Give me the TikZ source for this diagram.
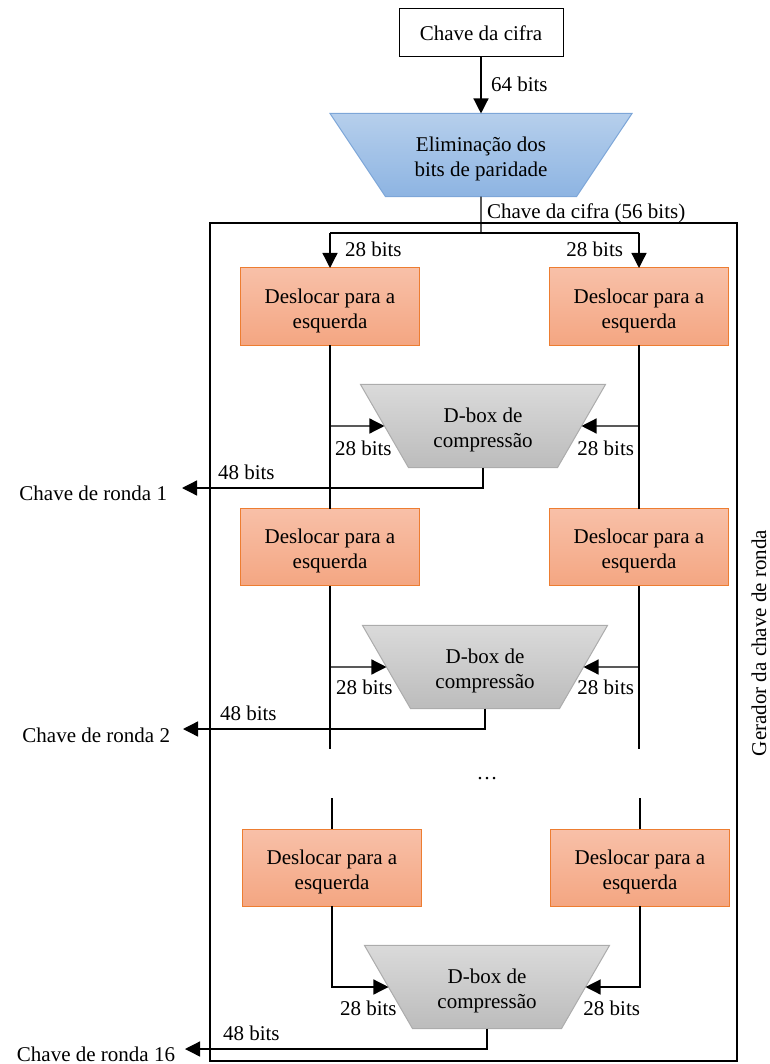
\documentclass[tikz,border=0pt]{standalone}
\usepackage{fontspec}
\setmainfont{Liberation Serif}
\usetikzlibrary{arrows.meta,shapes.geometric}

\definecolor{bluetop}{RGB}{182,207,236}
\definecolor{bluebot}{RGB}{141,180,226}
\definecolor{blueline}{RGB}{125,166,216}
\definecolor{orgtop}{RGB}{248,192,168}
\definecolor{orgbot}{RGB}{244,166,130}
\definecolor{orgline}{RGB}{237,125,49}
\definecolor{graytop}{RGB}{218,218,218}
\definecolor{graybot}{RGB}{188,188,188}
\definecolor{grayline}{RGB}{172,172,172}

% extra room above the first line of two-line box texts
\newcommand\hitop{\rule{0pt}{23pt}}

\begin{document}
\begin{tikzpicture}[x=1pt,y=-1pt,
  font=\fontsize{21}{25}\selectfont,
  every node/.style={inner sep=0pt, outer sep=0pt},
  wire/.style={line width=1.3pt},
  arr/.style={wire,-{Triangle[length=15pt,width=15pt]}},
  keybox/.style={draw, line width=1pt, minimum width=164pt, minimum height=48pt},
  shiftbox/.style={draw=orgline, line width=1pt, top color=orgtop, bottom color=orgbot,
    minimum width=179pt, minimum height=77pt, align=center},
  paritybox/.style={trapezium, shape border rotate=180, trapezium stretches body,
    trapezium angle=56.3, minimum width=302pt, inner ysep=15.3pt,
    draw=blueline, line width=1pt, top color=bluetop, bottom color=bluebot, align=center},
  dbox/.style={trapezium, shape border rotate=180, trapezium stretches body,
    trapezium angle=60, minimum width=245pt, inner ysep=15.3pt,
    draw=grayline, line width=1pt, top color=graytop, bottom color=graybot, align=center},
]
\useasboundingbox (0,0) rectangle (769,1064);

% outer frame of the round-key generator
\draw[line width=2.6pt] (210,223) rectangle (737,1061);
\node[rotate=90] (gen) at (759,643) {Gerador da chave de ronda};

% key input and parity drop
\node[keybox] (key) at (481,33) {Chave da cifra};
\node[paritybox] (pd) at (481,155) {\hitop Eliminação dos\\bits de paridade};
\coordinate (split) at (481,233);

% shift boxes
\node[shiftbox] (L1) at (330,306.5) {\hitop Deslocar para a\\esquerda};
\node[shiftbox] (R1) at (639,306.5) {\hitop Deslocar para a\\esquerda};
\node[shiftbox] (L2) at (330,547) {\hitop Deslocar para a\\esquerda};
\node[shiftbox] (R2) at (639,547) {\hitop Deslocar para a\\esquerda};
\node[shiftbox] (L3) at (332,867.5) {\hitop Deslocar para a\\esquerda};
\node[shiftbox] (R3) at (640,867.5) {\hitop Deslocar para a\\esquerda};

% compression boxes
\node[dbox] (d1) at (483,426) {\hitop D-box de\\compressão};
\node[dbox] (d2) at (485,667) {\hitop D-box de\\compressão};
\node[dbox] (d3) at (487,987) {\hitop D-box de\\compressão};

% round key outputs
\coordinate (t1) at (182,488);
\coordinate (t2) at (183,729);
\coordinate (t3) at (185,1049);
\node[anchor=east] (k1) at (167,493) {Chave de ronda 1};
\node[anchor=east] (k2) at (170,735) {Chave de ronda 2};
\node[anchor=east] (k3) at (175,1054) {Chave de ronda 16};

% break in the chain of rounds
\coordinate (gL1) at (330,749);
\coordinate (gR1) at (639,749);
\coordinate (gL2) at (332,798);
\coordinate (gR2) at (640,798);
\node (dots) at (487,779) {…};

% connectors
\draw[arr] (key) -- (pd);
\draw[wire] (pd.south) -- (split);
\draw[wire] (L1.north |- split) -- (R1.north |- split);
\draw[arr] (L1.north |- split) -- (L1.north);
\draw[arr] (R1.north |- split) -- (R1.north);

\draw[wire] (L1.south) -- (L2.north);
\draw[wire] (R1.south) -- (R2.north);
\draw[arr] (L1.south |- d1.center) -- (d1);
\draw[arr] (R1.south |- d1.center) -- (d1);
\draw[arr] (d1.south) |- (t1);

\draw[wire] (L2.south) -- (gL1);
\draw[wire] (R2.south) -- (gR1);
\draw[arr] (L2.south |- d2.center) -- (d2);
\draw[arr] (R2.south |- d2.center) -- (d2);
\draw[arr] (d2.south) |- (t2);

\draw[wire] (gL2) -- (L3.north);
\draw[wire] (gR2) -- (R3.north);
\draw[arr] (L3.south) |- (d3);
\draw[arr] (R3.south) |- (d3);
\draw[arr] (d3.south) |- (t3);

% bit-width labels
\node[anchor=west] (b64) at (491,84) {64 bits};
\node[anchor=west] (b56) at (487,213) {Chave da cifra (56 bits)};
\node[anchor=west] (s1l) at (345,249) {28 bits};
\node[anchor=east] (s1r) at (623,249) {28 bits};
\node[anchor=west] (c1l) at (335,448) {28 bits};
\node[anchor=east] (c1r) at (634,448) {28 bits};
\node[anchor=west] (o1) at (218,472) {48 bits};
\node[anchor=west] (c2l) at (336,687) {28 bits};
\node[anchor=east] (c2r) at (634,687) {28 bits};
\node[anchor=west] (o2) at (220,713) {48 bits};
\node[anchor=west] (c3l) at (340,1008) {28 bits};
\node[anchor=east] (c3r) at (640,1008) {28 bits};
\node[anchor=west] (o3) at (223,1033) {48 bits};
\end{tikzpicture}
\end{document}
